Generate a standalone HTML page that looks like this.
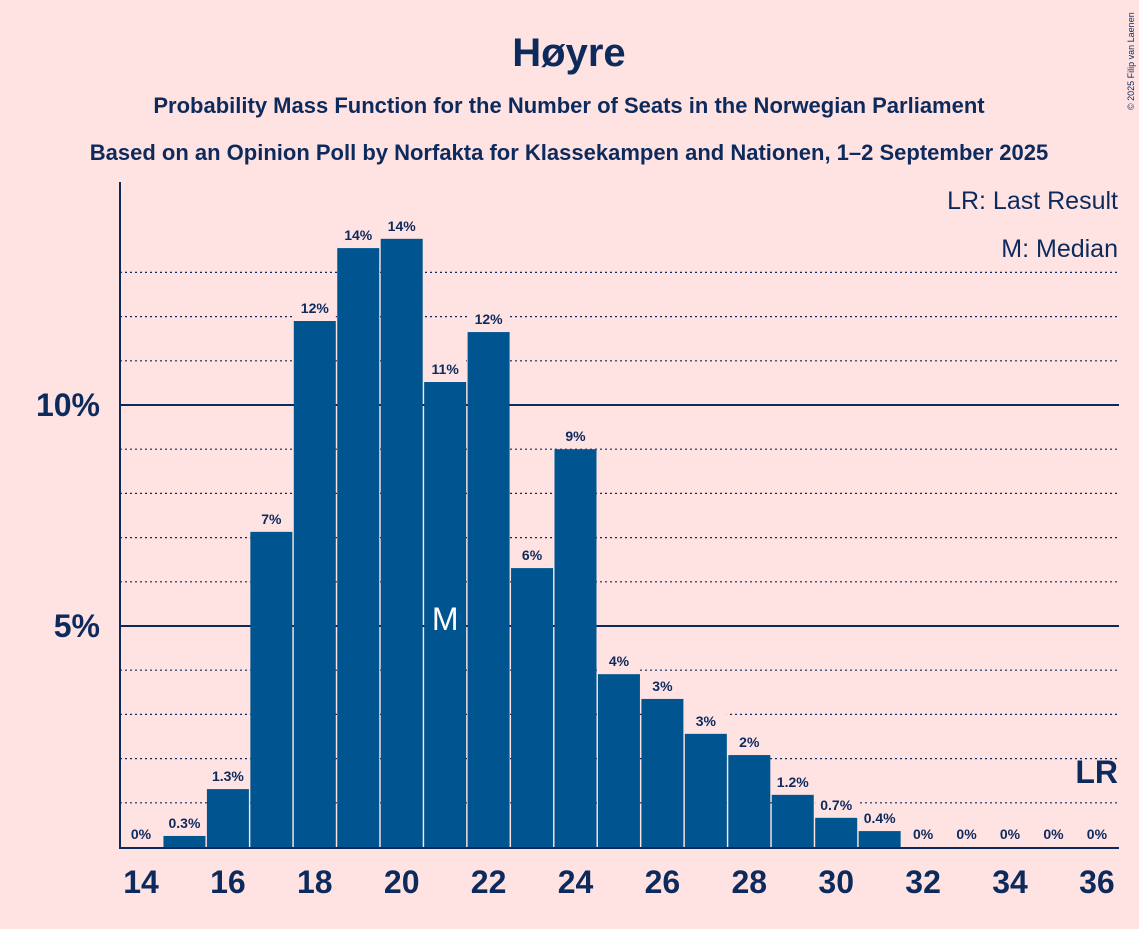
<!DOCTYPE html>
<html><head><meta charset="utf-8"><style>
body{margin:0;background:#ffe3e3;font-family:"Liberation Sans",sans-serif;}
svg text{font-family:"Liberation Sans",sans-serif;fill:#0d2a5c;}
</style></head><body>
<svg width="1139" height="924" viewBox="0 0 1139 924">
<rect width="1139" height="924" fill="#ffe3e3"/>
<text x="569" y="66" font-size="40" font-weight="bold" text-anchor="middle">Høyre</text>
<text x="569" y="113" font-size="22" font-weight="bold" text-anchor="middle">Probability Mass Function for the Number of Seats in the Norwegian Parliament</text>
<text x="569" y="160" font-size="22" font-weight="bold" text-anchor="middle">Based on an Opinion Poll by Norfakta for Klassekampen and Nationen, 1–2 September 2025</text>
<text x="1134" y="110" font-size="9" transform="rotate(-90 1134 110)" text-anchor="start">© 2025 Filip van Laenen</text>
<g id="grid"></g>
<g id="bars"></g>
<line x1="120" y1="182" x2="120" y2="848" stroke="#0d2a5c" stroke-width="2"/>
<line x1="119" y1="848" x2="1119" y2="848" stroke="#0d2a5c" stroke-width="2"/>
<text x="1118" y="209" font-size="25" text-anchor="end">LR: Last Result</text>
<text x="1118" y="257" font-size="25" text-anchor="end">M: Median</text>
</svg>
<script>
const seats=[14,15,16,17,18,19,20,21,22,23,24,25,26,27,28,29,30,31,32,33,34,35,36];
const probs=[0,0.25,1.31,7.13,11.9,13.55,13.76,10.52,11.65,6.31,9.0,3.91,3.35,2.56,2.08,1.18,0.66,0.36,0,0,0,0,0];
const labels=["0%","0.3%","1.3%","7%","12%","14%","14%","11%","12%","6%","9%","4%","3%","3%","2%","1.2%","0.7%","0.4%","0%","0%","0%","0%","0%"];
const xTicks=[14,16,18,20,22,24,26,28,30,32,34,36];
const yTicks=[5,10];
const median=21, lastResult=36;
const ns="http://www.w3.org/2000/svg";
const x=s=>141+(s-14)*43.45;
const y=v=>847-v*44.2;
const svg=document.querySelector('svg'),grid=document.getElementById('grid'),bars=document.getElementById('bars');
function mk(t,a,p){const e=document.createElementNS(ns,t);for(const k in a)e.setAttribute(k,a[k]);p.appendChild(e);return e;}
for(let i=1;i<=13;i++){
 const g=mk('line',{x1:120,x2:1119,y1:y(i),y2:y(i),stroke:'#0d2a5c','stroke-width':i%5?1.2:2,'stroke-dasharray':i%5?'2,3':''},grid);
 
 
}
yTicks.forEach(v=>{const t=mk('text',{x:100,y:y(v)+11,'font-size':32,'font-weight':'bold','text-anchor':'end'},svg);t.textContent=v+'%';
 
 });
xTicks.forEach(s=>{const t=mk('text',{x:x(s),y:893,'font-size':32,'font-weight':'bold','text-anchor':'middle'},svg);t.textContent=s;
 
 });
seats.forEach((s,i)=>{
 const v=probs[i];
 if(v>0){const r=mk('rect',{x:x(s)-21,y:y(v),width:42,height:847-y(v),fill:'#005590'},bars);
  
  
  const bg=mk('rect',{x:x(s)-21,y:y(v)-22,width:42,height:20,fill:'#ffe3e3'},bars);
  
  }
 const t=mk('text',{x:x(s),y:y(v)-8,'font-size':14,'font-weight':'bold','text-anchor':'middle'},svg);t.textContent=labels[i];
 
 
});
const m=mk('text',{x:x(median),y:630,'font-size':32,'text-anchor':'middle',fill:'#ffffff',style:'fill:#fff'},svg);m.textContent='M';


const lr=mk('text',{x:1118,y:783,'font-size':32,'font-weight':'bold','text-anchor':'end'},svg);lr.textContent='LR';


</script>
</body></html>
